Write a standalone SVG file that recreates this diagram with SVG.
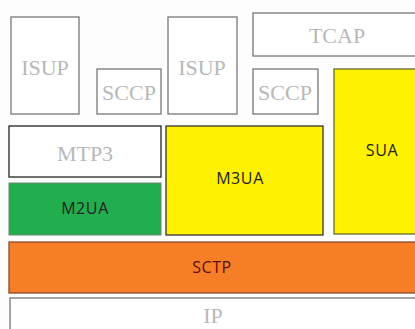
<svg xmlns="http://www.w3.org/2000/svg" width="415" height="329" viewBox="0 0 415 329">
<style>
.w{fill:#fff;stroke:#777;stroke-width:1.3}
.s{font-family:"Liberation Serif",serif;font-size:22px;fill:#b8b8b8;text-anchor:middle}
.a{font-family:"Open Sans","Liberation Sans",sans-serif;font-size:16px;letter-spacing:0.6px;fill:#222;text-anchor:middle}
</style>
<rect width="415" height="329" fill="#fdfdfd"/>
<g id="isup1"><rect class="w" x="11" y="17" width="68" height="97"/><text class="s" x="45" y="75">ISUP</text></g>
<g id="sccp1"><rect class="w" x="97" y="69" width="64" height="45"/><text class="s" x="129" y="100">SCCP</text></g>
<g id="isup2"><rect class="w" x="168" y="17" width="69" height="97"/><text class="s" x="202" y="75">ISUP</text></g>
<g id="tcap"><rect class="w" x="253" y="13" width="170" height="43"/><text class="s" x="337" y="43">TCAP</text></g>
<g id="sccp2"><rect class="w" x="253" y="69" width="65" height="45"/><text class="s" x="285" y="100">SCCP</text></g>
<g id="sua"><rect x="334" y="69" width="90" height="165" fill="#fff200" stroke="#6a6a30" stroke-width="1.3"/><text class="a" x="382" y="156">SUA</text></g>
<g id="mtp3"><rect x="9" y="126" width="152" height="51" fill="#fff" stroke="#222" stroke-width="1.3"/><text class="s" x="85" y="161">MTP3</text></g>
<g id="m2ua"><rect x="9" y="183" width="152" height="52" fill="#22ad4e" stroke="#6a8a6a" stroke-width="1"/><text class="a" x="85" y="214">M2UA</text></g>
<g id="m3ua"><rect x="166" y="126" width="157" height="109" fill="#fff200" stroke="#333" stroke-width="1.3"/><text class="a" x="240" y="184">M3UA</text></g>
<g id="sctp"><rect x="9" y="242" width="414" height="51" fill="#f57e27" stroke="#8a4a30" stroke-width="1.3"/><text class="a" x="212" y="273" style="fill:#5a1010">SCTP</text></g>
<g id="ip"><rect class="w" x="10" y="298" width="414" height="40"/><text class="s" x="213" y="323">IP</text></g>
<g id="connectors"></g>
</svg>
